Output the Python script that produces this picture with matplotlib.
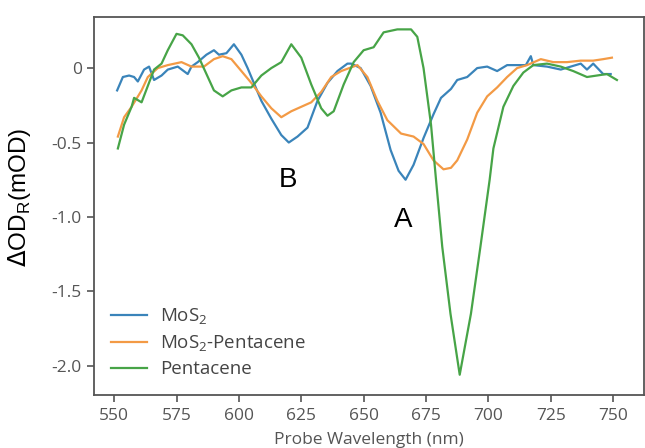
import matplotlib
matplotlib.use("Agg")
import matplotlib.pyplot as plt

# MoS2
wl_mos2 = [551.2, 553.5, 556, 558, 559.5, 562, 564, 566, 569, 571.5, 575.5, 579.5, 581,
           583.5, 587, 590, 592, 595, 598, 601, 603.5, 606, 609, 613, 617, 620, 623.5,
           627.5, 631.5, 635.5, 639.5, 643.5, 645, 648.8, 652.8, 656.8, 660.8, 664, 666.8,
           670, 674, 678, 681, 685, 687.5, 691.5, 695.5, 699.5, 703.5, 707.5, 711.5, 715,
           717, 718, 723.5, 729, 733, 737, 739.5, 742, 746, 749]
od_mos2 = [-0.15, -0.06, -0.05, -0.06, -0.09, -0.01, 0.01, -0.08, -0.05, -0.01, 0.01, -0.04, 0.01,
           0.04, 0.09, 0.12, 0.09, 0.10, 0.16, 0.09, 0.0, -0.10, -0.22, -0.34, -0.45, -0.50, -0.46,
           -0.40, -0.22, -0.10, -0.02, 0.03, 0.03, 0.0, -0.12, -0.30, -0.55, -0.69, -0.75,
           -0.65, -0.47, -0.31, -0.20, -0.14, -0.08, -0.06, 0.0, 0.01, -0.02, 0.02, 0.02, 0.02,
           0.08, 0.02, 0.01, -0.01, 0.01, 0.03, -0.01, 0.03, -0.04, -0.04]

# MoS2-Pentacene
wl_hybrid = [551.5, 554, 557, 561, 563.5, 567.5, 571.5, 577, 581, 586, 590, 593.5, 597, 601,
             605, 609, 613, 617, 621, 625, 629, 633, 637, 641, 647.5, 651.5, 655.5, 659.5,
             665, 670, 674, 678, 682, 685, 687.5, 691.5, 695.5, 699.5, 703.5, 707.5, 711.5,
             715.5, 721, 726, 731.5, 737, 742, 746, 749.5]
od_hybrid = [-0.46, -0.33, -0.26, -0.15, -0.06, 0.0, 0.02, 0.04, 0.01, 0.01, 0.06, 0.08, 0.06, -0.02,
             -0.10, -0.19, -0.27, -0.33, -0.29, -0.26, -0.23, -0.16, -0.06, -0.02, 0.02, -0.06, -0.22, -0.35,
             -0.44, -0.46, -0.51, -0.62, -0.68, -0.67, -0.62, -0.48, -0.30, -0.19, -0.13, -0.06, 0.0,
             0.02, 0.06, 0.04, 0.04, 0.05, 0.05, 0.06, 0.07]

# Pentacene
wl_pen = [551.5, 554, 557, 558, 561, 563.5, 566, 569, 571.5, 575, 577.5, 581, 584, 587, 590,
          593.5, 597, 601, 605, 609, 613, 617, 621, 625, 629, 633, 635.5, 638, 642, 646, 650,
          654, 658, 663.5, 669, 671.5, 674, 677, 679, 681.5, 684.8, 688.5, 693, 696.8, 700.5,
          702, 706, 710, 714, 718, 723.5, 729, 734, 739.5, 743.5, 747.5, 751.5]
od_pen = [-0.54, -0.38, -0.26, -0.20, -0.23, -0.12, -0.01, 0.03, 0.12, 0.23, 0.22, 0.16, 0.07, -0.04, -0.15,
          -0.19, -0.15, -0.13, -0.13, -0.05, 0.0, 0.04, 0.16, 0.07, -0.11, -0.27, -0.32, -0.29, -0.11, 0.04, 0.12,
          0.14, 0.24, 0.26, 0.26, 0.21, 0.0, -0.38, -0.75, -1.2, -1.65, -2.06, -1.65, -1.2, -0.75,
          -0.54, -0.26, -0.12, -0.03, 0.02, 0.03, 0.01, -0.02, -0.06, -0.05, -0.04, -0.08]

xticks = [550, 575, 600, 625, 650, 675, 700, 725, 750]
yticks = [0, -0.5, -1.0, -1.5, -2.0]
ytick_labels = ["0", "-0.5", "-1.0", "-1.5", "-2.0"]

plt.rcParams['font.family'] = ['Open Sans', 'DejaVu Sans']

fig = plt.figure(figsize=(6.45, 4.48), dpi=100)
ax = fig.add_axes([0.146, 0.118, 0.853, 0.844])

ax.plot(wl_mos2, od_mos2, color='#3a84ba', lw=1.6, label='MoS$_\\mathregular{2}$')
ax.plot(wl_hybrid, od_hybrid, color='#f39a45', lw=1.6, label='MoS$_\\mathregular{2}$-Pentacene')
ax.plot(wl_pen, od_pen, color='#47a447', lw=1.6, label='Pentacene')

ax.set_xlim(542, 762.5)
ax.set_ylim(-2.197, 0.343)
ax.set_xticks(xticks)
ax.set_yticks(yticks)
ax.set_yticklabels(ytick_labels)
ax.tick_params(colors='#555555', labelsize=12.5, length=5, width=1.2, pad=4)
for s in ax.spines.values():
    s.set_color('#555555')
    s.set_linewidth(1.3)

ax.set_xlabel('Probe Wavelength (nm)', color='#555555', fontsize=12.5)
ax.xaxis.set_label_coords(0.5, -0.098)
ax.set_ylabel('$\\Delta$OD$_\\mathregular{R}$(mOD)', fontsize=17.5, family='Liberation Sans',
              color='black')
ax.yaxis.set_label_coords(-0.111, 0.524)

ax.text(619.5, -0.75, 'B', fontsize=20, family='Liberation Sans', ha='center', va='center')
ax.text(666, -1.02, 'A', fontsize=20, family='Liberation Sans', ha='center', va='center')

leg = ax.legend(loc='lower left', frameon=False, fontsize=13.5, handlelength=1.9,
                handletextpad=0.7, bbox_to_anchor=(0.0, 0.0), labelspacing=0.35)
for t in leg.get_texts():
    t.set_color('#444444')

fig.savefig('out.png', dpi=100)
